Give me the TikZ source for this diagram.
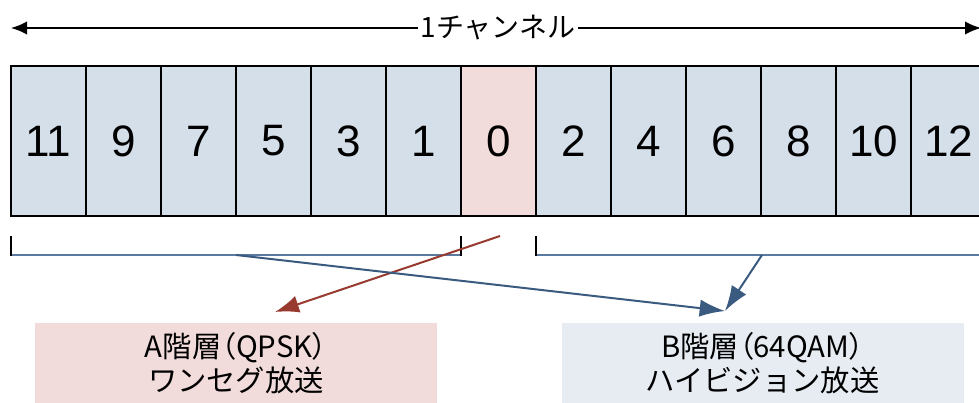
\documentclass[tikz,border=0pt]{standalone}
\usepackage{fontspec}
\setmainfont{Liberation Sans}
\newfontfamily\jp{Noto Sans CJK JP}
\newfontfamily\jpp[RawFeature=+palt]{Noto Sans CJK JP}
\usetikzlibrary{arrows.meta,calc}
\definecolor{cellblue}{HTML}{D5DFEA}
\definecolor{cellpink}{HTML}{F2DCDB}
\definecolor{boxblue}{HTML}{E7ECF3}
\definecolor{arrred}{HTML}{983A30}
\definecolor{arrblue}{HTML}{3A5A80}
\definecolor{brblue}{HTML}{5A7AA0}
\tikzset{
  cell/.style={draw=black, line width=1.9pt, fill=cellblue, minimum width=56.25pt,
    minimum height=112.5pt, inner sep=0pt, font=\fontsize{33}{33}\selectfont},
  zerocell/.style={cell, fill=cellpink},
  infobox/.style={minimum width=301.5pt, minimum height=60pt, inner sep=0pt, align=center,
    font=\jp\fontsize{22}{25.5}\selectfont},
  tick/.style={draw=black, line width=1.6pt},
  brline/.style={draw=brblue, line width=1.6pt},
  redarrow/.style={draw=arrred, line width=1.5pt, -{Latex[length=18pt,width=13pt]}},
  bluearrow/.style={draw=arrblue, line width=1.5pt, -{Latex[length=19pt,width=13pt]}},
  toparrow/.style={draw=black, line width=1.2pt, -{Latex[length=12pt,width=10pt]}}
}
\newcommand{\lpar}{{\jpp（}}
\newcommand{\rpar}{{\jpp）}}
\begin{document}
\begin{tikzpicture}[x=0.75pt,y=-0.75pt]
\useasboundingbox (0,0) rectangle (979,403);
% channel arrow
\node[font=\jp\fontsize{21}{21}\selectfont, inner sep=2pt] (title) at (498,28) {1チャンネル};
\coordinate (tl) at (11,28);
\coordinate (tr) at (981,28);
\draw[toparrow] (title.west) -- (tl);
\draw[toparrow] (title.east) -- (tr);
% cells
\foreach \lab [count=\i from 0] in {11,9,7,5,3,1} {
  \node[cell] (c\lab) at (48.5+75*\i,141) {\lab};
}
\node[zerocell] (c0) at (498.5,141) {0};
\foreach \lab [count=\i from 7] in {2,4,6,8,10,12} {
  \node[cell] (c\lab) at (48.5+75*\i,141) {\lab};
}
% brackets
\coordinate (la) at (11,236); \coordinate (lb) at (11,255);
\coordinate (lc) at (461,236); \coordinate (ld) at (461,255);
\coordinate (ra) at (536,236); \coordinate (rb) at (536,255);
\coordinate (rd) at (990,255);
\draw[brline] (lb) -- (ld);
\draw[brline] (rb) -- (rd);
\draw[tick] (la) -- ($(lb)+(0,1)$);
\draw[tick] (lc) -- ($(ld)+(0,1)$);
\draw[tick] (ra) -- ($(rb)+(0,1)$);
% info boxes
\node[infobox, fill=cellpink] (boxA) at (236,363) {A階層\lpar QPSK\rpar\\ワンセグ放送};
\node[infobox, fill=boxblue] (boxB) at (762.5,363) {B階層\lpar 64QAM\rpar\\ハイビジョン放送};
% connectors
\coordinate (lmid) at (236,255);
\coordinate (rmid) at (762,255);
\coordinate (redstart) at (500,236);
\coordinate (redend) at (275,312);
\coordinate (blueend) at (725,311);
\draw[redarrow] (redstart) -- (redend);
\draw[bluearrow] (lmid) -- (blueend);
\draw[bluearrow] (rmid) -- (blueend);
\end{tikzpicture}
\end{document}
